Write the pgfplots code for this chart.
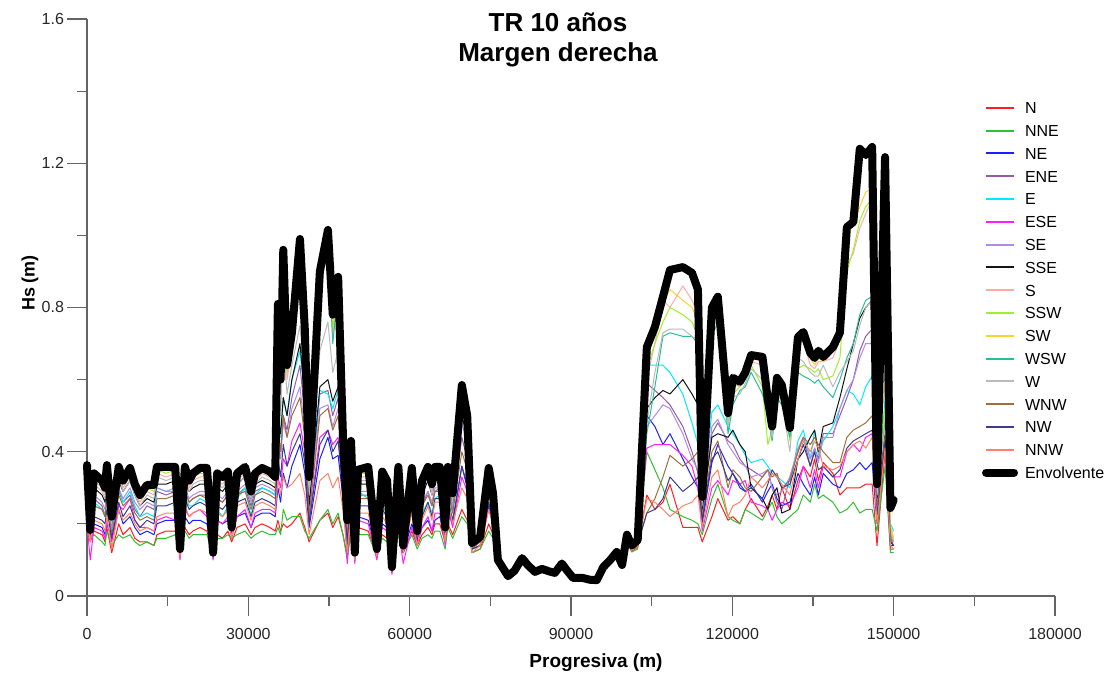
\documentclass[border=0pt]{standalone}
\usepackage{pgfplots}
\pgfplotsset{compat=1.18}
\usepackage{pgfplotstable}
\usepackage{fontspec}
\setmainfont{Liberation Sans}

% Significant wave height per incoming direction along the right bank (TR 10 years)
\pgfplotstableread{
x N NNE NE ENE E ESE SE SSE S SSW SW WSW W WNW NW NNW Env
0 0.20 0.17 0.22 0.29 0.28 0.20 0.30 0.31 0.34 0.34 0.35 0.36 0.33 0.27 0.25 0.23 0.363
600 0.15 0.16 0.17 0.17 0.18 0.10 0.17 0.18 0.16 0.17 0.17 0.18 0.17 0.16 0.17 0.15 0.183
1300 0.18 0.17 0.20 0.27 0.26 0.19 0.28 0.30 0.32 0.33 0.33 0.34 0.31 0.25 0.22 0.21 0.34
2800 0.17 0.15 0.19 0.25 0.24 0.18 0.26 0.28 0.30 0.31 0.31 0.32 0.29 0.24 0.21 0.20 0.32
3350 0.15 0.14 0.17 0.22 0.22 0.16 0.24 0.26 0.28 0.29 0.29 0.30 0.27 0.22 0.20 0.18 0.30
3700 0.19 0.18 0.20 0.28 0.30 0.21 0.29 0.31 0.34 0.35 0.35 0.36 0.33 0.27 0.24 0.22 0.363
4600 0.12 0.14 0.16 0.19 0.18 0.15 0.19 0.20 0.21 0.21 0.22 0.21 0.20 0.17 0.16 0.13 0.22
5900 0.20 0.17 0.24 0.29 0.30 0.25 0.30 0.32 0.34 0.35 0.35 0.355 0.33 0.28 0.26 0.24 0.358
6700 0.17 0.16 0.20 0.26 0.26 0.24 0.27 0.29 0.30 0.31 0.31 0.32 0.29 0.25 0.22 0.21 0.32
8000 0.19 0.17 0.22 0.28 0.29 0.27 0.30 0.32 0.33 0.34 0.345 0.35 0.32 0.27 0.25 0.23 0.355
8900 0.16 0.15 0.19 0.24 0.25 0.21 0.26 0.28 0.29 0.30 0.30 0.31 0.28 0.23 0.21 0.20 0.31
9850 0.15 0.14 0.17 0.22 0.22 0.19 0.24 0.25 0.26 0.27 0.27 0.28 0.25 0.21 0.19 0.18 0.28
11150 0.15 0.15 0.18 0.25 0.23 0.19 0.26 0.27 0.29 0.30 0.30 0.305 0.28 0.22 0.21 0.19 0.308
12450 0.14 0.14 0.17 0.24 0.22 0.18 0.25 0.26 0.28 0.29 0.30 0.305 0.27 0.21 0.20 0.18 0.308
13000 0.17 0.16 0.20 0.29 0.30 0.21 0.30 0.31 0.34 0.35 0.35 0.355 0.33 0.27 0.25 0.22 0.358
14700 0.18 0.16 0.21 0.28 0.29 0.22 0.29 0.31 0.33 0.34 0.35 0.355 0.32 0.27 0.25 0.23 0.358
16400 0.18 0.17 0.21 0.29 0.29 0.21 0.30 0.32 0.34 0.35 0.35 0.355 0.33 0.28 0.26 0.23 0.358
17300 0.11 0.12 0.12 0.12 0.12 0.10 0.12 0.12 0.12 0.12 0.13 0.12 0.12 0.12 0.12 0.11 0.13
18200 0.19 0.18 0.22 0.29 0.28 0.24 0.30 0.32 0.34 0.35 0.35 0.355 0.33 0.29 0.27 0.25 0.358
19000 0.17 0.16 0.20 0.26 0.25 0.22 0.27 0.29 0.30 0.31 0.31 0.32 0.29 0.26 0.24 0.22 0.32
19700 0.18 0.17 0.21 0.27 0.25 0.23 0.28 0.30 0.32 0.33 0.33 0.34 0.31 0.27 0.25 0.23 0.34
21000 0.19 0.17 0.21 0.28 0.27 0.24 0.29 0.31 0.33 0.34 0.345 0.35 0.32 0.28 0.26 0.24 0.355
22300 0.18 0.17 0.20 0.28 0.26 0.22 0.29 0.31 0.33 0.34 0.345 0.35 0.32 0.27 0.25 0.23 0.355
23450 0.11 0.11 0.11 0.11 0.11 0.10 0.11 0.12 0.11 0.11 0.12 0.12 0.11 0.11 0.11 0.11 0.12
24200 0.17 0.16 0.21 0.27 0.24 0.21 0.28 0.30 0.32 0.33 0.33 0.34 0.31 0.27 0.25 0.23 0.34
25200 0.16 0.16 0.20 0.26 0.22 0.20 0.27 0.29 0.31 0.32 0.32 0.33 0.30 0.26 0.24 0.22 0.33
26200 0.18 0.17 0.21 0.28 0.25 0.22 0.29 0.31 0.33 0.335 0.34 0.345 0.32 0.28 0.26 0.24 0.345
26900 0.15 0.16 0.17 0.18 0.18 0.16 0.18 0.19 0.18 0.18 0.19 0.19 0.18 0.17 0.17 0.16 0.19
27900 0.19 0.17 0.22 0.28 0.27 0.22 0.29 0.31 0.32 0.33 0.335 0.34 0.31 0.28 0.26 0.25 0.34
29400 0.20 0.18 0.23 0.30 0.30 0.24 0.31 0.33 0.34 0.35 0.35 0.355 0.33 0.29 0.27 0.26 0.358
30500 0.17 0.16 0.19 0.25 0.22 0.19 0.26 0.27 0.28 0.285 0.285 0.29 0.27 0.24 0.22 0.21 0.29
31250 0.19 0.17 0.22 0.29 0.28 0.23 0.30 0.31 0.32 0.33 0.335 0.34 0.31 0.28 0.26 0.25 0.34
32550 0.20 0.18 0.23 0.30 0.30 0.24 0.31 0.32 0.34 0.345 0.35 0.355 0.33 0.29 0.27 0.26 0.355
34000 0.19 0.17 0.23 0.29 0.29 0.24 0.30 0.31 0.33 0.335 0.34 0.345 0.32 0.28 0.26 0.25 0.345
35000 0.18 0.17 0.22 0.28 0.28 0.23 0.29 0.30 0.32 0.32 0.325 0.33 0.31 0.27 0.25 0.24 0.33
35500 0.21 0.19 0.30 0.45 0.48 0.33 0.42 0.50 0.76 0.78 0.81 0.79 0.60 0.46 0.38 0.32 0.81
36000 0.18 0.17 0.26 0.40 0.44 0.30 0.38 0.45 0.56 0.58 0.60 0.58 0.50 0.40 0.33 0.28 0.60
36500 0.20 0.24 0.34 0.50 0.55 0.38 0.48 0.55 0.90 0.93 0.96 0.94 0.70 0.50 0.42 0.33 0.96
37200 0.19 0.21 0.30 0.46 0.50 0.36 0.44 0.50 0.60 0.62 0.64 0.63 0.56 0.44 0.36 0.30 0.64
38100 0.20 0.22 0.36 0.55 0.60 0.43 0.52 0.60 0.69 0.71 0.73 0.72 0.64 0.50 0.40 0.31 0.73
39600 0.23 0.22 0.42 0.64 0.68 0.48 0.58 0.70 0.94 0.97 0.99 0.96 0.75 0.55 0.45 0.34 0.99
40500 0.19 0.18 0.34 0.50 0.55 0.40 0.46 0.55 0.70 0.72 0.74 0.72 0.60 0.44 0.37 0.28 0.74
41300 0.15 0.16 0.19 0.24 0.25 0.21 0.23 0.25 0.30 0.31 0.32 0.33 0.28 0.22 0.20 0.17 0.33
43300 0.21 0.21 0.38 0.56 0.57 0.44 0.52 0.58 0.85 0.87 0.89 0.88 0.68 0.50 0.42 0.32 0.90
44800 0.23 0.24 0.44 0.57 0.56 0.46 0.53 0.60 0.96 0.98 1.01 0.99 0.76 0.52 0.46 0.34 1.015
45700 0.19 0.20 0.38 0.50 0.52 0.42 0.47 0.54 0.72 0.74 0.76 0.70 0.62 0.46 0.40 0.30 0.78
46700 0.22 0.23 0.39 0.55 0.57 0.44 0.52 0.58 0.84 0.86 0.88 0.85 0.68 0.50 0.43 0.33 0.885
47600 0.17 0.17 0.27 0.36 0.37 0.30 0.34 0.38 0.42 0.43 0.44 0.43 0.40 0.33 0.29 0.24 0.44
48400 0.11 0.10 0.14 0.17 0.19 0.09 0.17 0.19 0.20 0.20 0.21 0.21 0.19 0.16 0.15 0.12 0.21
49100 0.19 0.18 0.25 0.33 0.34 0.28 0.32 0.35 0.41 0.42 0.43 0.42 0.38 0.31 0.28 0.24 0.43
49800 0.10 0.10 0.11 0.11 0.11 0.09 0.11 0.12 0.11 0.11 0.12 0.12 0.11 0.11 0.11 0.10 0.12
50400 0.19 0.17 0.22 0.28 0.29 0.21 0.29 0.31 0.33 0.34 0.34 0.35 0.32 0.27 0.25 0.23 0.35
52300 0.18 0.17 0.21 0.28 0.27 0.20 0.29 0.31 0.33 0.34 0.345 0.355 0.32 0.27 0.25 0.23 0.358
53900 0.11 0.11 0.12 0.12 0.12 0.10 0.12 0.12 0.12 0.12 0.13 0.13 0.12 0.12 0.12 0.11 0.13
54900 0.17 0.16 0.20 0.27 0.25 0.19 0.28 0.30 0.32 0.33 0.34 0.345 0.31 0.26 0.24 0.22 0.345
55800 0.16 0.15 0.19 0.25 0.23 0.18 0.26 0.28 0.30 0.31 0.31 0.32 0.29 0.24 0.22 0.20 0.32
56700 0.07 0.07 0.07 0.07 0.07 0.06 0.07 0.08 0.07 0.07 0.08 0.08 0.07 0.07 0.07 0.07 0.08
57900 0.19 0.17 0.21 0.28 0.27 0.19 0.29 0.31 0.33 0.34 0.35 0.355 0.32 0.27 0.25 0.24 0.358
58800 0.12 0.12 0.12 0.13 0.13 0.09 0.13 0.13 0.13 0.13 0.14 0.14 0.13 0.12 0.12 0.12 0.14
60400 0.18 0.17 0.20 0.27 0.26 0.19 0.28 0.30 0.33 0.34 0.345 0.35 0.31 0.26 0.24 0.23 0.355
61400 0.14 0.13 0.15 0.16 0.16 0.14 0.16 0.17 0.17 0.17 0.18 0.18 0.17 0.15 0.15 0.14 0.18
62300 0.17 0.16 0.19 0.25 0.23 0.19 0.26 0.28 0.30 0.31 0.31 0.32 0.29 0.25 0.22 0.21 0.32
63400 0.19 0.17 0.21 0.29 0.26 0.22 0.29 0.32 0.34 0.35 0.35 0.355 0.33 0.28 0.26 0.25 0.358
64150 0.17 0.16 0.18 0.25 0.23 0.18 0.26 0.28 0.29 0.30 0.30 0.31 0.28 0.25 0.22 0.21 0.31
64700 0.20 0.18 0.21 0.29 0.27 0.23 0.30 0.32 0.34 0.35 0.35 0.355 0.33 0.29 0.27 0.26 0.358
65600 0.20 0.18 0.22 0.30 0.28 0.23 0.30 0.32 0.34 0.35 0.35 0.355 0.33 0.29 0.27 0.26 0.358
66600 0.15 0.13 0.16 0.17 0.17 0.14 0.17 0.18 0.18 0.18 0.19 0.19 0.18 0.16 0.16 0.15 0.19
67100 0.20 0.19 0.24 0.30 0.29 0.24 0.31 0.32 0.34 0.35 0.35 0.355 0.33 0.29 0.27 0.26 0.358
68000 0.17 0.16 0.20 0.24 0.23 0.19 0.25 0.26 0.27 0.28 0.28 0.285 0.26 0.23 0.21 0.20 0.285
69700 0.24 0.22 0.36 0.44 0.52 0.33 0.48 0.50 0.56 0.57 0.58 0.58 0.54 0.40 0.36 0.30 0.585
70700 0.21 0.20 0.30 0.38 0.45 0.29 0.42 0.44 0.48 0.49 0.50 0.50 0.46 0.35 0.31 0.27 0.50
71600 0.12 0.12 0.13 0.14 0.14 0.13 0.14 0.14 0.14 0.14 0.147 0.145 0.14 0.13 0.13 0.12 0.147
73100 0.13 0.13 0.14 0.15 0.15 0.14 0.15 0.16 0.16 0.16 0.164 0.16 0.16 0.15 0.14 0.14 0.164
74700 0.20 0.18 0.25 0.29 0.30 0.24 0.30 0.31 0.33 0.34 0.35 0.35 0.33 0.28 0.26 0.24 0.355
75500 0.17 0.16 0.20 0.24 0.25 0.20 0.25 0.26 0.27 0.28 0.28 0.285 0.27 0.23 0.21 0.20 0.285
76400 0.090 0.085 0.095 0.097 0.098 0.092 0.096 0.097 0.098 0.099 0.100 0.099 0.097 0.094 0.093 0.091 0.100
78300 0.048 0.046 0.050 0.052 0.053 0.049 0.052 0.053 0.054 0.054 0.055 0.054 0.052 0.050 0.050 0.048 0.055
79500 0.063 0.061 0.066 0.068 0.069 0.064 0.068 0.068 0.069 0.070 0.070 0.069 0.068 0.065 0.064 0.063 0.070
80900 0.095 0.093 0.100 0.102 0.103 0.097 0.102 0.103 0.104 0.104 0.105 0.104 0.102 0.099 0.098 0.096 0.105
82000 0.077 0.075 0.081 0.083 0.084 0.079 0.082 0.083 0.084 0.084 0.085 0.084 0.082 0.080 0.079 0.078 0.085
83300 0.060 0.058 0.063 0.065 0.066 0.061 0.065 0.065 0.066 0.067 0.067 0.066 0.065 0.062 0.062 0.060 0.067
84600 0.068 0.066 0.071 0.073 0.074 0.069 0.073 0.073 0.074 0.075 0.075 0.074 0.073 0.070 0.069 0.068 0.075
86000 0.061 0.059 0.064 0.066 0.067 0.062 0.066 0.066 0.067 0.068 0.068 0.067 0.066 0.063 0.063 0.061 0.068
87000 0.057 0.056 0.060 0.062 0.063 0.058 0.062 0.062 0.063 0.064 0.064 0.063 0.062 0.059 0.059 0.057 0.064
88300 0.082 0.080 0.086 0.088 0.089 0.084 0.088 0.088 0.089 0.090 0.090 0.089 0.088 0.085 0.084 0.083 0.090
89300 0.063 0.061 0.066 0.068 0.069 0.064 0.068 0.068 0.069 0.070 0.070 0.069 0.068 0.065 0.064 0.063 0.070
90400 0.044 0.043 0.047 0.048 0.049 0.045 0.048 0.048 0.049 0.050 0.050 0.049 0.048 0.046 0.046 0.044 0.050
92200 0.044 0.043 0.047 0.048 0.049 0.045 0.048 0.048 0.049 0.050 0.050 0.049 0.048 0.046 0.046 0.044 0.050
93500 0.040 0.039 0.042 0.043 0.044 0.041 0.043 0.043 0.044 0.045 0.045 0.044 0.043 0.042 0.041 0.040 0.045
94800 0.039 0.038 0.041 0.042 0.043 0.040 0.042 0.042 0.043 0.044 0.044 0.043 0.042 0.041 0.040 0.039 0.044
96000 0.072 0.070 0.076 0.078 0.079 0.074 0.078 0.078 0.079 0.080 0.080 0.079 0.078 0.075 0.074 0.073 0.080
97300 0.090 0.088 0.095 0.097 0.098 0.092 0.096 0.097 0.098 0.099 0.100 0.099 0.097 0.094 0.093 0.091 0.100
98500 0.110 0.108 0.116 0.118 0.120 0.113 0.118 0.118 0.120 0.121 0.122 0.121 0.119 0.115 0.114 0.111 0.122
99500 0.077 0.076 0.082 0.084 0.085 0.080 0.083 0.084 0.085 0.085 0.086 0.085 0.084 0.081 0.080 0.078 0.086
100400 0.150 0.148 0.160 0.165 0.167 0.155 0.164 0.165 0.167 0.168 0.170 0.168 0.166 0.160 0.158 0.152 0.170
101300 0.125 0.122 0.133 0.136 0.138 0.128 0.135 0.136 0.138 0.139 0.140 0.139 0.137 0.132 0.130 0.127 0.140
102400 0.135 0.130 0.145 0.150 0.152 0.140 0.148 0.150 0.152 0.153 0.155 0.153 0.151 0.146 0.144 0.138 0.155
104100 0.28 0.40 0.50 0.59 0.64 0.41 0.47 0.52 0.60 0.63 0.69 0.45 0.48 0.23 0.23 0.27 0.69
105600 0.24 0.35 0.47 0.57 0.64 0.42 0.50 0.55 0.70 0.70 0.74 0.58 0.62 0.27 0.24 0.26 0.746
107100 0.26 0.30 0.42 0.55 0.64 0.42 0.53 0.57 0.82 0.76 0.81 0.72 0.73 0.33 0.27 0.24 0.83
108400 0.31 0.24 0.45 0.53 0.62 0.42 0.52 0.56 0.80 0.80 0.85 0.73 0.74 0.39 0.33 0.22 0.904
110800 0.19 0.22 0.38 0.47 0.56 0.39 0.45 0.60 0.86 0.78 0.82 0.72 0.74 0.36 0.29 0.25 0.912
112500 0.19 0.21 0.33 0.40 0.48 0.36 0.38 0.56 0.82 0.76 0.80 0.72 0.72 0.38 0.31 0.26 0.896
113600 0.19 0.20 0.30 0.34 0.42 0.30 0.35 0.53 0.78 0.72 0.76 0.70 0.71 0.40 0.33 0.28 0.85
114400 0.15 0.17 0.20 0.22 0.25 0.18 0.22 0.24 0.26 0.26 0.27 0.25 0.26 0.22 0.21 0.19 0.275
116200 0.22 0.27 0.37 0.45 0.51 0.30 0.47 0.44 0.76 0.77 0.78 0.72 0.74 0.40 0.38 0.33 0.80
117300 0.27 0.31 0.42 0.48 0.53 0.32 0.49 0.45 0.80 0.81 0.81 0.76 0.77 0.43 0.40 0.35 0.83
119200 0.21 0.22 0.36 0.43 0.47 0.28 0.42 0.44 0.49 0.48 0.50 0.45 0.47 0.30 0.32 0.22 0.507
120100 0.22 0.21 0.34 0.42 0.45 0.32 0.40 0.46 0.59 0.56 0.60 0.53 0.55 0.35 0.34 0.25 0.605
121400 0.20 0.20 0.30 0.38 0.42 0.31 0.37 0.42 0.58 0.58 0.59 0.57 0.56 0.33 0.31 0.26 0.594
122400 0.24 0.24 0.29 0.36 0.39 0.32 0.36 0.40 0.60 0.61 0.61 0.58 0.59 0.30 0.29 0.28 0.62
123500 0.27 0.23 0.31 0.35 0.37 0.26 0.33 0.30 0.65 0.64 0.66 0.62 0.63 0.29 0.30 0.33 0.668
125600 0.22 0.21 0.26 0.33 0.38 0.25 0.34 0.27 0.64 0.58 0.65 0.56 0.60 0.33 0.27 0.30 0.663
126600 0.25 0.24 0.29 0.35 0.36 0.24 0.35 0.24 0.53 0.42 0.52 0.50 0.50 0.35 0.31 0.32 0.544
127400 0.28 0.26 0.31 0.30 0.34 0.21 0.30 0.28 0.45 0.46 0.47 0.43 0.44 0.33 0.35 0.34 0.47
128300 0.24 0.22 0.27 0.26 0.33 0.24 0.28 0.30 0.59 0.58 0.60 0.55 0.56 0.34 0.33 0.33 0.605
129200 0.30 0.20 0.25 0.24 0.32 0.26 0.29 0.23 0.57 0.56 0.58 0.53 0.54 0.30 0.30 0.31 0.585
130700 0.24 0.22 0.26 0.33 0.30 0.25 0.33 0.24 0.45 0.43 0.46 0.44 0.40 0.32 0.31 0.28 0.466
132200 0.32 0.24 0.34 0.40 0.43 0.30 0.41 0.38 0.69 0.63 0.70 0.62 0.66 0.40 0.38 0.38 0.718
133200 0.36 0.28 0.31 0.44 0.46 0.36 0.44 0.40 0.71 0.64 0.72 0.61 0.65 0.44 0.42 0.43 0.732
134500 0.33 0.26 0.28 0.36 0.38 0.30 0.38 0.44 0.64 0.63 0.66 0.60 0.62 0.42 0.36 0.40 0.674
135300 0.38 0.31 0.33 0.41 0.46 0.35 0.41 0.46 0.63 0.62 0.64 0.59 0.61 0.44 0.40 0.43 0.66
136000 0.32 0.27 0.28 0.38 0.39 0.30 0.37 0.40 0.65 0.63 0.66 0.60 0.61 0.42 0.35 0.41 0.68
136900 0.37 0.28 0.34 0.45 0.43 0.36 0.44 0.47 0.65 0.60 0.65 0.58 0.64 0.40 0.36 0.36 0.663
138700 0.34 0.26 0.31 0.45 0.47 0.33 0.44 0.48 0.66 0.61 0.68 0.55 0.58 0.37 0.33 0.35 0.69
140000 0.28 0.23 0.30 0.50 0.52 0.33 0.52 0.55 0.71 0.66 0.72 0.60 0.62 0.37 0.35 0.36 0.73
141300 0.30 0.24 0.34 0.55 0.57 0.40 0.57 0.63 0.92 0.90 1.01 0.66 0.65 0.44 0.41 0.40 1.023
142500 0.30 0.26 0.35 0.60 0.56 0.42 0.60 0.70 0.95 0.96 1.03 0.70 0.68 0.46 0.43 0.42 1.037
143700 0.30 0.23 0.37 0.68 0.53 0.40 0.66 0.77 1.02 1.04 1.08 0.78 0.75 0.47 0.44 0.43 1.24
144800 0.31 0.24 0.35 0.72 0.58 0.44 0.70 0.80 1.06 1.08 1.12 0.82 0.80 0.48 0.45 0.41 1.223
146000 0.31 0.24 0.37 0.74 0.61 0.45 0.70 0.82 1.10 1.10 1.13 0.83 0.82 0.50 0.46 0.44 1.245
146900 0.14 0.18 0.20 0.26 0.25 0.22 0.25 0.27 0.30 0.29 0.31 0.28 0.28 0.24 0.22 0.20 0.31
148400 0.40 0.36 0.42 0.45 0.55 0.42 0.44 0.46 0.50 0.52 0.60 0.48 0.47 0.44 0.43 0.41 1.217
149400 0.13 0.12 0.14 0.16 0.20 0.15 0.17 0.15 0.19 0.18 0.20 0.17 0.18 0.16 0.15 0.14 0.244
150000 0.13 0.12 0.14 0.15 0.18 0.14 0.15 0.14 0.16 0.15 0.16 0.15 0.15 0.14 0.14 0.13 0.266
}\hsdata

% Direction colours
\definecolor{cN}{RGB}{255,30,30}
\definecolor{cNNE}{RGB}{50,190,50}
\definecolor{cNE}{RGB}{30,30,255}
\definecolor{cENE}{RGB}{150,90,170}
\definecolor{cE}{RGB}{0,235,255}
\definecolor{cESE}{RGB}{255,30,255}
\definecolor{cSE}{RGB}{175,140,225}
\definecolor{cSSE}{RGB}{20,20,20}
\definecolor{cS}{RGB}{255,170,170}
\definecolor{cSSW}{RGB}{160,240,40}
\definecolor{cSW}{RGB}{250,210,50}
\definecolor{cWSW}{RGB}{40,190,150}
\definecolor{cW}{RGB}{185,185,185}
\definecolor{cWNW}{RGB}{160,110,60}
\definecolor{cNW}{RGB}{60,60,140}
\definecolor{cNNW}{RGB}{255,130,100}
\definecolor{axgray}{RGB}{100,100,100}

\begin{document}
\begin{tikzpicture}[x=1pt,y=1pt]
\useasboundingbox (0,0) rectangle (555,339);
\begin{axis}[
  at={(43.5pt,41pt)}, anchor=south west,
  scale only axis, width=484pt, height=288.5pt,
  xmin=0, xmax=180000, ymin=0, ymax=1.6,
  axis lines=left,
  axis line style={-, draw=axgray, line width=0.6pt},
  xtick={0,30000,60000,90000,120000,150000,180000},
  minor xtick={15000,45000,75000,105000,135000,165000},
  ytick={0,0.4,0.8,1.2,1.6},
  minor ytick={0.2,0.6,1.0,1.4},
  tick align=outside,
  major tick length=10pt, minor tick length=5pt,
  every tick/.style={draw=axgray, line width=0.6pt},
  scaled x ticks=false, scaled y ticks=false,
  /pgf/number format/assume math mode=true,
  xticklabel style={/pgf/number format/fixed, /pgf/number format/1000 sep={}, yshift=-2.5pt},
  yticklabel style={/pgf/number format/fixed, /pgf/number format/precision=1, xshift=2pt},
  ticklabel style={font=\fontsize{8}{9}\selectfont, text=black!85},
  legend cell align=left,
  legend image code/.code={\draw[#1, line width=1pt] (0pt,0pt) -- (14pt,0pt);},
  legend style={draw=none, fill=none,
    at={(axis description cs:0.918,0.866)}, anchor=north west,
    font=\fontsize{8}{9}\selectfont,
    nodes={inner sep=0.5pt, text height=6pt, text depth=0pt},
    row sep=4.4pt,
    /tikz/every odd column/.append style={column sep=3pt}},
  every axis plot/.append style={line width=0.5pt, line join=round},
  clip=false,
]
\addplot[cN]   table[x=x,y=N]   {\hsdata}; \addlegendentry{N}
\addplot[cNNE] table[x=x,y=NNE] {\hsdata}; \addlegendentry{NNE}
\addplot[cNE]  table[x=x,y=NE]  {\hsdata}; \addlegendentry{NE}
\addplot[cENE] table[x=x,y=ENE] {\hsdata}; \addlegendentry{ENE}
\addplot[cE]   table[x=x,y=E]   {\hsdata}; \addlegendentry{E}
\addplot[cESE] table[x=x,y=ESE] {\hsdata}; \addlegendentry{ESE}
\addplot[cSE]  table[x=x,y=SE]  {\hsdata}; \addlegendentry{SE}
\addplot[cSSE] table[x=x,y=SSE] {\hsdata}; \addlegendentry{SSE}
\addplot[cS]   table[x=x,y=S]   {\hsdata}; \addlegendentry{S}
\addplot[cSSW] table[x=x,y=SSW] {\hsdata}; \addlegendentry{SSW}
\addplot[cSW]  table[x=x,y=SW]  {\hsdata}; \addlegendentry{SW}
\addplot[cWSW] table[x=x,y=WSW] {\hsdata}; \addlegendentry{WSW}
\addplot[cW]   table[x=x,y=W]   {\hsdata}; \addlegendentry{W}
\addplot[cWNW] table[x=x,y=WNW] {\hsdata}; \addlegendentry{WNW}
\addplot[cNW]  table[x=x,y=NW]  {\hsdata}; \addlegendentry{NW}
\addplot[cNNW] table[x=x,y=NNW] {\hsdata}; \addlegendentry{NNW}
\addplot[black, line width=4pt, line cap=round, legend image code/.code={\draw[black, line width=4pt, line cap=round] (0pt,0pt) -- (14pt,0pt);}] table[x=x,y=Env] {\hsdata};
\addlegendentry{Envolvente}
\end{axis}
% Titles and axis labels
\node[anchor=base, font=\bfseries\fontsize{13}{15}\selectfont] at (279,323) {TR 10 años};
\node[anchor=base, font=\bfseries\fontsize{13}{15}\selectfont] at (279,308) {Margen derecha};
\node[font=\bfseries\fontsize{9.5}{11}\selectfont] at (298,7.5) {Progresiva (m)};
\node[rotate=90, font=\bfseries\fontsize{9}{11}\selectfont] at (15,197.5) {Hs (m)};
\end{tikzpicture}
\end{document}
